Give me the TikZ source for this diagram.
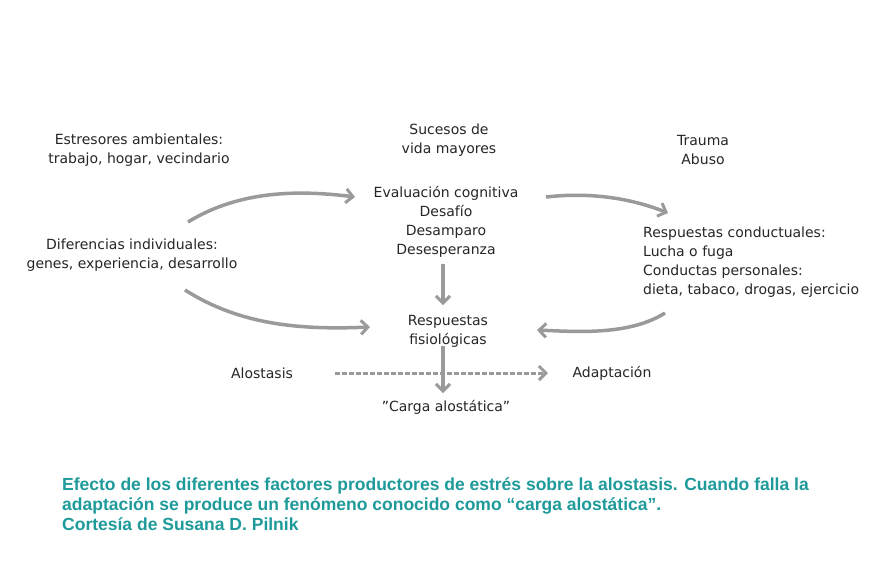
\documentclass[tikz,border=0pt]{standalone}
\usepackage{fontspec}
\setmainfont{DejaVu Sans}
\newfontfamily\capfont{Liberation Sans}
\usetikzlibrary{arrows.meta}
\definecolor{arr}{HTML}{9A9A9A}
\definecolor{teal}{HTML}{1E9A9A}
\tikzset{
  lbl/.style={font=\fontsize{14}{19}\selectfont, align=center, inner sep=0pt, text=black!85},
  lbll/.style={lbl, align=left},
  conn/.style={draw=arr, line width=3.5pt, -{Straight Barb[length=7pt,width=14pt,line width=3pt]}},
}
\begin{document}
\begin{tikzpicture}[x=1pt,y=-1pt]
\useasboundingbox (0,0) rectangle (880,587);
\fill[white] (0,0) rectangle (880,587);
\node[lbl] (amb) at (139,150) {Estresores ambientales:\\trabajo, hogar, vecindario};
\node[lbl] (suc) at (449,140) {Sucesos de\\vida mayores};
\node[lbl] (tra) at (703,150) {Trauma\\Abuso};
\node[lbl] (dif) at (132,255) {Diferencias individuales:\\genes, experiencia, desarrollo};
\node[lbl] (eva) at (446,222) {Evaluación cognitiva\\Desafío\\Desamparo\\Desesperanza};
\node[lbll, anchor=west] (res) at (643,262) {Respuestas conductuales:\\Lucha o fuga\\Conductas personales:\\dieta, tabaco, drogas, ejercicio};
\node[lbl] (fis) at (448,331) {Respuestas\\fisiológicas};
\node[lbl] (alo) at (262,373) {Alostasis};
\node[lbl] (ada) at (612,373) {Adaptación};
\node[lbl] (car) at (446,407) {\symbol{34}Carga alostática\symbol{34}};
\coordinate (a1) at (188,222); \coordinate (a2) at (355,197);
\coordinate (b1) at (185,290); \coordinate (b2) at (370,327);
\coordinate (c1) at (546,197); \coordinate (c2) at (668,213);
\coordinate (d1) at (665,313); \coordinate (d2) at (537,330);
\coordinate (e1) at (443,264); \coordinate (e2) at (443,305);
\coordinate (f1) at (443,346); \coordinate (f2) at (443,393);
\coordinate (g1) at (335,373); \coordinate (g2) at (548,373);
\draw[conn] (a1) .. controls (240,190) and (300,190) .. (a2);
\draw[conn] (b1) .. controls (240,325) and (300,330) .. (b2);
\draw[conn] (c1) .. controls (590,192) and (630,198) .. (c2);
\draw[conn] (d1) .. controls (630,335) and (580,332) .. (d2);
\draw[conn] (e1) -- (e2);
\draw[conn, dash pattern=on 5pt off 2pt, line width=3pt] (g1) -- (g2);
\draw[conn] (f1) -- (f2);
\node[font=\capfont\bfseries\fontsize{17.5}{20}\selectfont, text=teal, align=left, anchor=north west, inner sep=0pt] (cap) at (62,477)
{Efecto de los diferentes factores productores de estrés sobre la alostasis. Cuando falla la\\adaptación se produce un fenómeno conocido como “carga alostática”.\\Cortesía de Susana D. Pilnik};
\end{tikzpicture}
\end{document}
